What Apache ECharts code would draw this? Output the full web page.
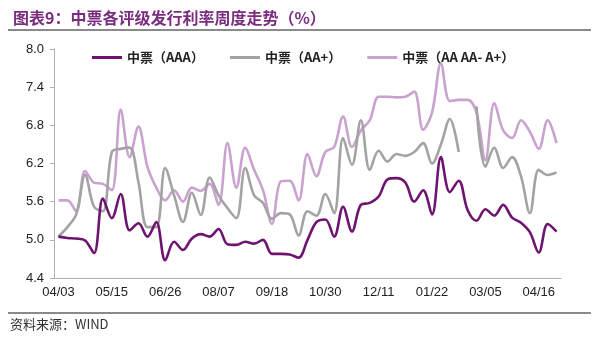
<!DOCTYPE html>
<html>
<head>
<meta charset="utf-8">
<script src="https://cdn.jsdelivr.net/npm/echarts@6/dist/echarts.min.js"></script>
<style>
html,body{margin:0;padding:0;background:#fff;}
#chart{width:600px;height:339px;}
</style>
</head>
<body>
<div id="chart"></div>
<script>
var categories = [
  '04/03','04/10','04/17','04/24','05/01','05/08','05/15','05/22','05/29','06/05',
  '06/12','06/19','06/26','07/03','07/10','07/17','07/24','07/31','08/07','08/14',
  '08/21','08/28','09/04','09/11','09/18','09/25','10/02','10/09','10/16','10/23',
  '10/30','11/06','11/13','11/20','11/27','12/04','12/11','12/18','12/25','01/01',
  '01/08','01/15','01/22','01/29','02/05','02/12','02/19','02/26','03/05','03/12',
  '03/19','03/26','04/02','04/09','04/16','04/23','04/30'
];
var seriesNames = ['中票（AAA）', '中票（AA+）', '中票（AA AA- A+）'];
var aaa = [
  5.05,5.03,5.02,4.99,4.79,5.65,5.34,5.72,5.15,5.26,
  5.05,5.28,4.68,4.97,4.84,5.02,5.09,5.05,5.17,4.93,
  4.92,4.97,4.94,5.00,4.78,4.78,4.77,4.72,5.00,5.28,
  5.32,5.05,5.52,5.13,5.55,5.58,5.68,5.95,5.97,5.90,
  5.60,5.78,5.40,6.30,5.75,5.93,5.47,5.30,5.48,5.38,
  5.55,5.35,5.27,5.12,4.80,5.25,5.13
];
var aaPlus = [
  5.05,5.20,5.40,6.02,5.52,5.45,6.38,6.43,6.45,5.90,
  5.20,5.20,6.13,5.70,5.28,5.74,5.39,5.98,5.70,5.50,
  5.34,6.13,5.70,5.58,5.33,5.42,5.40,5.07,5.45,5.38,
  5.72,5.42,6.60,6.18,6.88,6.10,6.40,6.23,6.35,6.32,
  6.38,6.52,6.20,6.50,6.90,6.38,null,7.10,6.15,6.45,
  6.13,6.30,6.00,5.42,6.10,6.02,6.06
];
var aaGroup = [
  5.62,5.62,5.45,6.08,5.90,5.88,5.78,7.05,6.30,6.78,
  6.15,5.82,5.62,5.78,5.60,5.82,5.77,5.88,5.55,6.52,
  5.82,6.45,6.10,5.78,5.25,5.92,5.93,5.62,6.35,6.00,
  6.38,6.46,6.94,6.46,6.72,6.88,7.25,7.25,7.24,7.25,
  7.33,6.73,7.00,7.77,7.18,7.20,7.20,7.00,6.25,7.15,
  6.72,6.60,6.88,6.70,6.43,6.88,6.52
];
var yTicks = { min: 4.4, max: 8.0, interval: 0.6 };
var titleText = '图表9：中票各评级发行利率周度走势（%）';
var sourceText = '资料来源：WIND';

var colors = ['#6e1470', '#a3a3a3', '#c9a2cf'];
var chart = echarts.init(document.getElementById('chart'), null, {renderer:'canvas'});
var font = '"Liberation Sans", Arial, sans-serif';
var option = {
  animation: false,
  backgroundColor: '#fff',
  color: colors,
  title: {
    text: titleText,
    left: 8, top: 5,
    textStyle: { color: '#7a2c7e', fontSize: 16, fontWeight: 'bold', fontFamily: '"Noto Sans CJK SC", sans-serif' }
  },
  graphic: [
    { type: 'line', shape: { x1: 8, y1: 30, x2: 591, y2: 30 }, style: { stroke: '#8a8a8a', lineWidth: 2 } },
    { type: 'line', shape: { x1: 8, y1: 313, x2: 591, y2: 313 }, style: { stroke: '#8a8a8a', lineWidth: 2 } },
    { type: 'text', left: 10, top: 318, style: { text: sourceText, fill: '#333', fontSize: 13, fontFamily: '"Noto Sans CJK SC", sans-serif' } }
  ],
  legend: {
    left: 87, top: 46,
    itemWidth: 30, itemHeight: 3, itemGap: 26,
    icon: 'rect',
    data: seriesNames,
    textStyle: { fontSize: 13, color: '#222', fontWeight: 'bold', fontFamily: '"Noto Sans CJK SC", sans-serif' }
  },
  grid: { left: 54, right: 39, top: 49, bottom: 61 },
  xAxis: {
    type: 'category',
    data: categories,
    boundaryGap: true,
    axisLine: { lineStyle: { color: '#b0b0b0', width: 1 } },
    axisTick: { interval: 0, length: 4, lineStyle: { color: '#b0b0b0' } },
    axisLabel: { interval: 5, color: '#222', fontSize: 13, margin: 8, fontFamily: font,
      formatter: function (v, i) { return (i % 6 === 0) ? v : ''; } }
  },
  yAxis: {
    type: 'value',
    min: yTicks.min, max: yTicks.max, interval: yTicks.interval,
    axisLine: { show: true, lineStyle: { color: '#b0b0b0' } },
    axisTick: { show: true, length: 4, lineStyle: { color: '#b0b0b0' } },
    splitLine: { show: false },
    axisLabel: { color: '#222', fontSize: 13, margin: 10, fontFamily: font,
      formatter: function (v) { return v.toFixed(1); } }
  },
  series: [
    { name: seriesNames[0], type: 'line', data: aaa, smooth: 0.35, showSymbol: false, z: 5,
      lineStyle: { width: 2.6, color: colors[0] } },
    { name: seriesNames[1], type: 'line', data: aaPlus, smooth: 0.35, showSymbol: false, connectNulls: false, z: 4,
      lineStyle: { width: 2.6, color: colors[1] } },
    { name: seriesNames[2], type: 'line', data: aaGroup, smooth: 0.35, showSymbol: false, z: 3,
      lineStyle: { width: 2.6, color: colors[2] } }
  ]
};
chart.setOption(option);
</script>
</body>
</html>
